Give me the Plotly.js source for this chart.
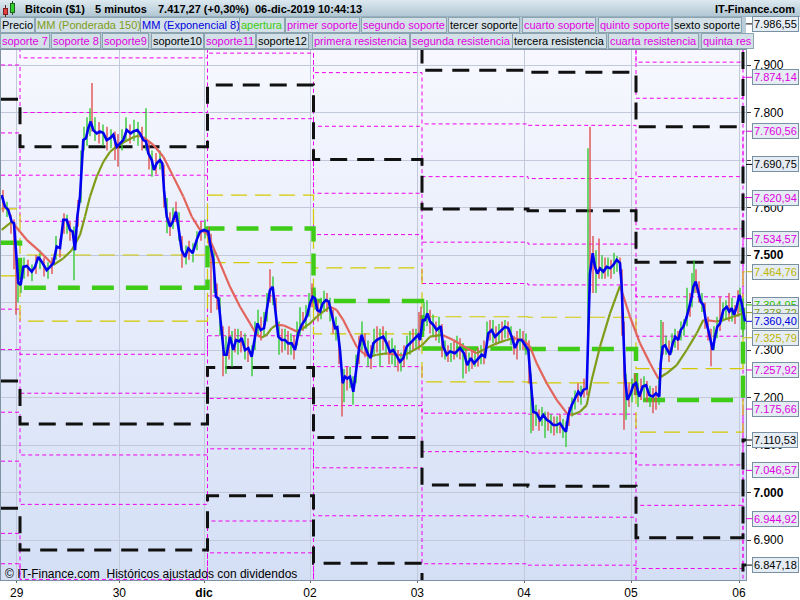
<!DOCTYPE html>
<html lang="es">
<head>
<meta charset="utf-8">
<script src="https://cdn.plot.ly/plotly-3.0.1.min.js"></script>
<style>
html,body{margin:0;padding:0;background:#fff;}
#wrap{position:relative;width:800px;height:600px;overflow:hidden;background:#fff;}
#topbar{position:absolute;left:0;top:0;width:800px;height:17px;background:linear-gradient(#dde9f0,#b1c7d3);border-bottom:1px solid #98b0bd;box-sizing:border-box;}
#legbg{position:absolute;left:0;top:17px;width:746px;height:33px;background:#b9cdd8;}
#plotbg{position:absolute;left:1px;top:50px;width:745px;height:530px;background:linear-gradient(#f7f8ff,#d4dff6);}
#chart{position:absolute;left:0;top:0;width:800px;height:600px;}
.ic{position:absolute;box-sizing:border-box;}
</style>
</head>
<body>
<div id="wrap">
  <div id="topbar"></div>
  <div id="legbg"></div>
  <div id="plotbg"></div>
  <div class="ic" style="left:5px;top:5px;width:1px;height:12px;background:#602020"></div>
  <div class="ic" style="left:3px;top:8px;width:5px;height:7px;background:#e04040;border:1px solid #802020"></div>
  <div class="ic" style="left:12px;top:1px;width:1px;height:14px;background:#205020"></div>
  <div class="ic" style="left:10px;top:3px;width:5px;height:10px;background:#30d030;border:1px solid #206020"></div>
  <div id="chart"></div>
</div>
<script>
// ---------------- DATA ----------------
// x axis = bar position index
const dayTickX = [16.7, 119.3, 204, 310, 417.3, 524, 631, 739];
const dayTickText = ['29', '30', 'dic', '02', '03', '04', '05', '06'];
const priceTicks = [6900, 7000, 7100, 7200, 7300, 7400, 7500, 7600, 7700, 7800, 7900];
const priceTickText = ['6.900', '7.000', '7.100', '7.200', '7.300', '', '7.500', '7.600', '', '7.800', '7.900'];

// start of each daily pivot segment
const segStartX = [1, 20, 207.5, 313.5, 422, 528, 636, 743];
const aperturaLv = [7526, 7431, 7556, 7403, 7303, 7302, 7195, 7394.95];
const bandUp = [7597, 7500, 7626, 7473, 7370, 7369, 7261, 7464.76];
const bandDn = [7456, 7361, 7484, 7334, 7233, 7231, 7127, 7325.79];
const res1 = [7668, 7571, 7699, 7543, 7440, 7437, 7329, 7534.57];
const res2 = [7757, 7668, 7787, 7630, 7527, 7523, 7412, 7620.94];
const res3 = [7828, 7728, 7858, 7701, 7597, 7593, 7485, 7690.75];
const res4 = [7900, 7800, 7925, 7771, 7665, 7661, 7555, 7760.56];
const res5 = [8000, 7915, 8035, 7884, 7776, 7773, 7665, 7874.14];
const res6 = [8110, 8015, 8140, 7990, 7889, 7885, 7770, 7986.55];
const res7 = [8160, 8080, 8190, 8045, 7945, 7940, 7830, 8050];
const res8 = [8230, 8150, 8260, 8110, 8010, 8005, 7906, 8120];
const sup1 = [7386, 7291, 7414, 7265, 7167, 7165, 7058, 7257.92];
const sup2 = [7301, 7209, 7330, 7183, 7086, 7083, 6973, 7175.66];
const sup3 = [7235, 7144, 7263, 7116, 7016, 7013, 6905, 7110.53];
const sup4 = [7169, 7079, 7198, 7052, 6951, 6948, 6840, 7046.57];
const sup5 = [7066, 6975, 7092, 6951, 6850, 6847, 6735, 6944.92];
const sup6 = [6967, 6879, 6993, 6851, 6750, 6747, 6630, 6847.18];
const sup7 = [6914, 6817, 6940, 6790, 6690, 6687, 6570, 6790];
const sup8 = [6850, 6750, 6873, 6720, 6620, 6617, 6500, 6720];

// MM (Exponencial 8)
const emaX = [1.7,5,8.3,11.7,14,16,18.3,20.7,23.3,26.7,31.7,35,38.3,41.7,46.7,50,53.3,56.7,60,63.3,66.7,70,72.7,75,77.3,80,81.7,83.3,86,88.3,90.7,93.3,96.7,100,103.3,106.7,110,113.3,116.7,120,123.3,126.7,130.7,133.3,137.3,140,143.3,146,148.3,151.7,154,156.7,160,162.3,164,166.7,170,172.7,176,178.3,181.7,185,188.3,192.7,196.7,200,204,208.3,210,213.3,216,218.3,220.7,224,226.7,230,233.3,236,239.3,241.7,245,248.3,251.7,255,257.3,260.7,264,266.7,270,272.7,275,278.3,281.7,285,288.3,291.7,295,298.3,301.7,305,307.3,310,312.7,315,317.3,320,322.7,326,328.7,331.7,335,337.3,340,342.7,345,347.3,350,353.3,356.7,359.3,361.7,365,368.3,370.7,373.3,376.7,380,383.3,386.7,390,393.3,396.7,400,403.3,406.7,410,415,418.3,420,422.7,425,427.3,430,433.3,436.7,440.7,443.3,446.7,450,455,460,464,467.3,470.7,474,478.3,481.7,485,488.3,491.7,495,498.3,501.7,505,508.3,511.7,515,518.3,521.7,525,528.3,530.7,533.3,536.7,540,543.3,546.7,550,553.3,556.7,560,563.3,566,568.3,571.7,575,578.3,580.7,583.3,586.7,588.3,590,592.7,595,597.3,600,603.3,606.7,610,613.3,616.7,620,621.7,623.3,625,627.3,630.7,633.3,636,639.3,642.7,646,649.3,652.7,656,659.3,660.7,662.7,665,667.3,670,672.7,675.3,678.3,680.7,683.3,686.7,689.3,691.7,693.3,695.7,698.3,700.7,703.3,705.7,708.3,710.7,712.7,715,717.3,720,723.3,726.7,729.3,731.7,734,736.7,739.3,741.7,745];
const emaV = [7626,7602,7595,7570,7567,7510,7441,7437,7475,7477,7465,7475,7496,7486,7468,7475,7483,7518,7515,7574,7574,7553,7549,7510,7581,7623,7700,7742,7746,7767,7781,7763,7756,7760,7757,7742,7746,7753,7728,7735,7742,7763,7756,7760,7763,7756,7742,7739,7714,7700,7679,7693,7700,7693,7637,7581,7560,7570,7591,7560,7510,7496,7514,7504,7532,7549,7553,7549,7525,7490,7412,7409,7356,7290,7290,7328,7300,7321,7318,7325,7300,7304,7286,7328,7356,7342,7346,7384,7426,7433,7384,7328,7321,7321,7314,7314,7300,7335,7353,7363,7374,7398,7412,7409,7384,7381,7398,7405,7402,7377,7346,7348,7300,7230,7244,7240,7244,7212,7265,7307,7332,7307,7290,7283,7314,7321,7325,7328,7314,7296,7300,7286,7275,7283,7307,7314,7325,7332,7321,7363,7363,7377,7360,7353,7342,7350,7307,7290,7297,7293,7304,7293,7268,7283,7272,7283,7290,7286,7335,7342,7328,7335,7342,7349,7346,7328,7304,7321,7321,7310,7300,7237,7170,7167,7153,7163,7153,7149,7142,7142,7146,7135,7128,7163,7184,7198,7212,7205,7216,7219,7335,7461,7504,7475,7461,7472,7465,7475,7472,7479,7490,7483,7433,7335,7244,7195,7209,7226,7230,7202,7223,7226,7205,7202,7209,7202,7272,7307,7310,7300,7290,7314,7328,7321,7342,7349,7370,7391,7412,7433,7444,7423,7402,7395,7363,7342,7321,7300,7328,7349,7356,7384,7391,7381,7388,7374,7391,7416,7398,7360.4];

// MM (Ponderada 150)
const mmX = [1.7,11.7,26.7,40,53.3,63.3,71.7,80,85,90,96.7,103.3,110,116.7,125,133.3,138.3,143.3,153.3,163.3,173.3,183.3,191.7,200,206.7,210,220,230,240,250,256.7,261.7,266.7,271.7,276.7,283.3,290,296.7,303.3,310,316.7,323.3,330,336.7,343.3,350,356.7,363.3,370,376.7,386.7,396.7,403,410,422,430,441.7,453.3,466.7,476.7,486.7,496.7,506.7,513.3,523.3,530,536.7,546.7,556.7,566.7,571.7,580,586.7,591.7,600,610,620,630,640,650,658.3,666.7,676.7,686.7,696.7,703.3,710,716.7,723.3,733.3,745];
const mmV = [7553,7570,7532,7507,7479,7493,7510,7542,7581,7623,7665,7696,7717,7729,7739,7748,7751,7748,7732,7707,7665,7623,7581,7553,7546,7532,7483,7433,7391,7356,7332,7326,7332,7346,7353,7352,7346,7339,7346,7356,7370,7381,7391,7384,7363,7335,7307,7293,7286,7290,7293,7290,7289,7295,7310,7328,7332,7321,7304,7293,7304,7314,7321,7325,7321,7307,7272,7230,7195,7167,7163,7170,7184,7237,7307,7377,7435,7370,7314,7272,7240,7251,7268,7300,7335,7363,7362,7360,7363,7370,7378.72];

// Precio (high / low of the candles, 1 = up candle)
const spikeX = [3,7,11,14,16,18,21,24,28,32, 36,40,44,48,52,56,60,64,67,70, 74,78,81,84,87,90,92,95,99,103, 107,111,115,118,122,126,130,134,138,142, 146,149,152,156,160,164,167,170,173,176, 179,182,186,189,193,197,201,205,209,211, 214,217,220,223,226,229,232,235,238,241, 245,248,252,255,258,261,264,267,270,273, 276,279,282,285,288,291,294,297,300,303, 306,309,312,315,318,321,324,327,330,333, 336,339,342,344,347,350,353,356,359,362, 365,368,371,374,377,380,383,386,389,392, 395,398,401,404,407,410,413,416,419,421, 424,427,430,433,436,439,442,445,448,451, 454,457,460,463,466,469,472,475,478,481, 484,487,490,493,496,499,502,505,508,511, 514,517,520,523,526,529,531,533,536,539, 542,545,548,551,554,557,560,563,566,569, 572,575,578,581,584,587,588,590,593,596, 599,602,605,608,611,614,617,620,622,624, 626,629,632,635,638,641,644,647,650,653, 656,659,661,663,666,669,672,675,678,681, 684,687,690,692,694,696,699,702,705,708, 711,714,717,720,723,726,729,732,735,738, 740,743];
const spikeHi = [7637,7612,7585,7575,7520,7470,7460,7495,7490,7480, 7500,7510,7495,7485,7495,7540,7535,7588,7585,7570, 7560,7616,7720,7770,7790,7809,7862,7790,7780,7775, 7770,7765,7760,7755,7765,7790,7775,7785,7780,7770, 7809,7740,7720,7715,7720,7690,7620,7590,7600,7612, 7590,7540,7520,7530,7525,7550,7570,7575,7560,7545, 7510,7440,7410,7350,7330,7350,7340,7345,7345,7340, 7335,7325,7310,7360,7385,7370,7380,7420,7470,7455, 7410,7360,7345,7345,7340,7335,7330,7360,7390,7380, 7395,7420,7440,7425,7405,7410,7425,7420,7410,7385, 7370,7330,7260,7260,7265,7265,7245,7290,7330,7360, 7335,7320,7310,7345,7350,7345,7350,7340,7320,7325, 7310,7300,7295,7310,7330,7340,7345,7345,7380,7391, 7400,7405,7385,7375,7360,7370,7355,7320,7310,7315, 7320,7330,7325,7315,7300,7295,7300,7300,7305,7310, 7320,7360,7363,7363,7350,7355,7360,7363,7360,7350, 7330,7340,7345,7340,7335,7320,7250,7200,7185,7175, 7180,7170,7170,7165,7160,7160,7165,7155,7150,7180, 7200,7215,7230,7225,7240,7250,7725,7770,7540,7510, 7535,7500,7495,7495,7490,7505,7498,7495,7470,7360, 7250,7230,7240,7250,7230,7240,7245,7235,7225,7220, 7225,7240,7363,7359,7330,7320,7335,7345,7340,7360, 7365,7431,7420,7462,7489,7470,7445,7420,7400,7370, 7345,7350,7370,7412,7400,7405,7420,7410,7395,7426, 7431,7410];
const spikeLo = [7590,7580,7545,7470,7374,7400,7420,7450,7455,7445, 7460,7470,7455,7450,7460,7490,7495,7545,7545,7530, 7447,7560,7610,7720,7730,7750,7760,7740,7735,7730, 7720,7725,7700,7686,7720,7740,7735,7740,7730,7720, 7720,7680,7665,7670,7680,7600,7546,7540,7555,7570, 7530,7473,7480,7490,7485,7510,7530,7535,7520,7378, 7420,7385,7330,7245,7250,7280,7265,7295,7290,7295, 7280,7275,7245,7300,7330,7320,7330,7360,7400,7395, 7350,7290,7295,7300,7290,7290,7280,7310,7330,7340, 7345,7370,7390,7385,7360,7365,7380,7380,7360,7335, 7320,7270,7160,7190,7215,7220,7185,7230,7270,7300, 7285,7265,7260,7290,7295,7265,7300,7290,7270,7270, 7265,7255,7255,7265,7280,7290,7300,7305,7300,7330, 7340,7350,7335,7330,7320,7315,7285,7280,7275,7275, 7280,7285,7280,7240,7250,7255,7260,7265,7265,7270, 7270,7310,7320,7315,7310,7315,7320,7325,7325,7310, 7290,7280,7300,7300,7290,7230,7125,7130,7140,7130, 7140,7115,7130,7125,7120,7125,7125,7115,7096,7140, 7160,7175,7190,7185,7200,7205,7300,7420,7420,7420, 7450,7450,7450,7455,7450,7460,7465,7460,7330,7132, 7153,7180,7190,7205,7180,7195,7200,7190,7180,7167, 7174,7185,7260,7290,7290,7275,7295,7305,7300,7320, 7330,7350,7370,7390,7420,7420,7400,7380,7345,7320, 7266,7300,7325,7340,7360,7365,7360,7360,7355,7370, 7380,7327];
const spikeUp = [0,1,0,0,0,1,1,1,0,1, 0,1,0,1,0,1,0,0,1,0, 1,0,1,1,1,1,0,1,0,1, 0,1,0,0,1,1,0,1,1,0, 1,0,1,0,1,0,1,0,1,0, 1,0,1,0,1,1,0,1,0,0, 1,0,1,0,1,0,1,0,1,0, 1,0,1,1,1,0,1,1,0,1, 0,1,0,1,0,1,0,1,1,0, 1,1,0,1,0,1,1,0,1,0, 1,0,0,1,0,1,1,1,0,1, 0,1,0,1,0,1,0,1,0,1, 1,0,1,0,1,1,0,1,0,0, 1,1,0,1,0,1,0,1,0,1, 0,1,0,1,0,1,0,1,0,1, 0,1,0,1,0,1,0,1,0,1, 0,0,1,0,1,0,1,0,1,0, 1,1,0,1,0,1,0,1,1,0, 1,1,0,1,0,0,1,0,0,1, 0,1,0,1,0,1,1,0,0,0, 1,0,1,0,1,0,1,0,1,0, 0,1,1,0,1,0,1,1,0,1, 1,1,0,1,1,0,0,1,0,0, 0,1,1,0,1,1,0,1,0,0, 1,1];

// header / legend texts
const titleParts = ['Bitcoin ($1)', '5 minutos', '7.417,27 (+0,30%)', '06-dic-2019 10:44:13'];
const legendRow1 = ['Precio', 'MM (Ponderada 150)', 'MM (Exponencial 8)', 'apertura', 'primer soporte', 'segundo soporte', 'tercer soporte', 'cuarto soporte', 'quinto soporte', 'sexto soporte'];
const legendRow2 = ['soporte 7', 'soporte 8', 'soporte9', 'soporte10', 'soporte11', 'soporte12', 'primera resistencia', 'segunda resistencia', 'tercera resistencia', 'cuarta resistencia', 'quinta res'];

// ---------------- STYLE / LAYOUT ----------------
const FONT = '"Liberation Sans", Arial, sans-serif';
const ML = 1, MT = 50, PW = 745, PH = 530, MR = 54, MB = 20;
const X_RANGE = [1, 746];
const Y_RANGE = [6815.8, 7931.6];
const C = {mag: '#f000f0', magT: '#e000e0', blk: '#111111', yel: '#d4c900', yelT: '#bdb400', grn: '#3fcc17', grnT: '#2fbf00',
           olive: '#7f9d18', salmon: '#e2645c', blue: '#0000f0', up: '#35c935', dn: '#e05050'};
const ST = {
  mag: {color: C.mag, width: 1, dash: '4px,3px'},
  blk: {color: C.blk, width: 3, dash: '17px,10px'},
  yel: {color: C.yel, width: 1.2, dash: '16px,8px'},
  grn: {color: C.grn, width: 4.5, dash: '22px,12px'}
};

const px2x = p => (p - ML) / PW;
const py2y = p => 1 - (p - MT) / PH;
const v2y = v => (v - Y_RANGE[0]) / (Y_RANGE[1] - Y_RANGE[0]);
function fmtEs(v) {
  const s = v.toFixed(2).split('.');
  return s[0].replace(/\B(?=(\d{3})+(?!\d))/g, '.') + ',' + s[1];
}

const segEdges = segStartX.concat([X_RANGE[1]]);
const levels = [
  {v: res8, st: 'mag', lab: null}, {v: res7, st: 'mag', lab: null},
  {v: sup8, st: 'mag', lab: null}, {v: sup7, st: 'mag', lab: null},
  {v: res5, st: 'mag', lab: C.magT}, {v: res4, st: 'mag', lab: C.magT},
  {v: res2, st: 'mag', lab: C.magT}, {v: res1, st: 'mag', lab: C.magT},
  {v: sup1, st: 'mag', lab: C.magT}, {v: sup2, st: 'mag', lab: C.magT},
  {v: sup4, st: 'mag', lab: C.magT}, {v: sup5, st: 'mag', lab: C.magT},
  {v: bandUp, st: 'yel', lab: C.yelT}, {v: bandDn, st: 'yel', lab: C.yelT},
  {v: res6, st: 'blk', lab: '#000'}, {v: res3, st: 'blk', lab: '#000'},
  {v: sup3, st: 'blk', lab: '#000'}, {v: sup6, st: 'blk', lab: '#000'},
  {v: aperturaLv, st: 'grn', lab: null}
];

const traces = [];
levels.forEach(l => {
  traces.push({x: segEdges, y: l.v.concat([l.v[l.v.length - 1]]), mode: 'lines', type: 'scatter',
    line: Object.assign({shape: 'hv'}, ST[l.st]), hoverinfo: 'skip', showlegend: false});
});

// candles (wicks)
const gX = [], gY = [], rX = [], rY = [];
spikeX.forEach((x, i) => {
  const tx = spikeUp[i] ? gX : rX, ty = spikeUp[i] ? gY : rY;
  tx.push(x, x, null); ty.push(spikeHi[i], spikeLo[i], null);
});
traces.push({x: rX, y: rY, mode: 'lines', line: {color: C.dn, width: 1.4}, hoverinfo: 'skip', showlegend: false});
traces.push({x: gX, y: gY, mode: 'lines', line: {color: C.up, width: 1.4}, hoverinfo: 'skip', showlegend: false});

// MM 150 coloured by slope
const uX = [], uY = [], dX = [], dY = [];
for (let i = 0; i < mmX.length - 1; i++) {
  const rising = mmV[i + 1] >= mmV[i];
  (rising ? uX : dX).push(mmX[i], mmX[i + 1], null);
  (rising ? uY : dY).push(mmV[i], mmV[i + 1], null);
}
traces.push({x: dX, y: dY, mode: 'lines', line: {color: C.salmon, width: 2.2}, hoverinfo: 'skip', showlegend: false});
traces.push({x: uX, y: uY, mode: 'lines', line: {color: C.olive, width: 2.2}, hoverinfo: 'skip', showlegend: false});

// EMA 8
traces.push({x: emaX, y: emaV, mode: 'lines', line: {color: C.blue, width: 2.6}, hoverinfo: 'skip', showlegend: false});

// ---------------- ANNOTATIONS ----------------
const ann = [];
const titleLeft = [23, 93, 156, 253];
titleParts.forEach((t, i) => ann.push({xref: 'paper', yref: 'paper', x: px2x(titleLeft[i]), y: py2y(8.5), xanchor: 'left', yanchor: 'middle',
  text: '<b>' + t + '</b>', showarrow: false, font: {family: FONT, size: 11, color: '#000'}}));
ann.push({xref: 'paper', yref: 'paper', x: px2x(797), y: py2y(8.5), xanchor: 'right', yanchor: 'middle',
  text: '<b>IT-Finance.com</b>', showarrow: false, font: {family: FONT, size: 11, color: '#000'}});

const row1Left = [0, 35, 140, 239, 285, 361, 448, 522, 598, 672];
const row1Col = ['#000', C.olive, '#0000e0', '#3ccc10', C.magT, C.magT, '#000', C.magT, C.magT, '#000'];
const row2Left = [0, 51, 102, 151, 204, 256, 312, 410, 512, 608, 701];
const row2Col = [C.magT, C.magT, C.magT, '#000', C.magT, '#000', C.magT, C.magT, '#000', C.magT, C.magT];
function legBox(text, left, cy, color) {
  return {xref: 'paper', yref: 'paper', x: px2x(left), y: py2y(cy), xanchor: 'left', yanchor: 'middle', text: text,
    showarrow: false, font: {family: FONT, size: 11, color: color}, bgcolor: '#d3e0e7', bordercolor: '#8ca3b0', borderwidth: 1, borderpad: 1};
}
legendRow1.forEach((t, i) => ann.push(legBox(t, row1Left[i], 25, row1Col[i])));
legendRow2.forEach((t, i) => ann.push(legBox(t, row2Left[i], 41.5, row2Col[i])));

// right-hand value boxes (last values)
function valBox(v, color) {
  return {xref: 'paper', yref: 'paper', x: 1, y: v2y(v), ax: 6, ay: 0, showarrow: true, arrowhead: 0, arrowwidth: 1, arrowcolor: color,
    xanchor: 'left', yanchor: 'middle', text: fmtEs(v), font: {family: FONT, size: 11, color: color},
    bgcolor: '#e5ecf4', bordercolor: '#7890a2', borderwidth: 1, borderpad: 1};
}
levels.forEach(l => { if (l.lab) ann.push(valBox(l.v[l.v.length - 1], l.lab)); });
ann.push(valBox(aperturaLv[aperturaLv.length - 1], C.grnT));
ann.push(valBox(mmV[mmV.length - 1], C.olive));
ann.push(valBox(emaV[emaV.length - 1], '#0000e0'));

ann.push({xref: 'paper', yref: 'paper', x: px2x(3), y: py2y(574), xanchor: 'left', yanchor: 'middle', showarrow: false,
  text: '© IT-Finance.com  Históricos ajustados con dividendos', font: {family: FONT, size: 12, color: '#000'}});

const layout = {
  width: 800, height: 600,
  margin: {l: ML, r: MR, t: MT, b: MB, pad: 0},
  paper_bgcolor: 'rgba(0,0,0,0)', plot_bgcolor: 'rgba(0,0,0,0)',
  font: {family: FONT, size: 12, color: '#000'},
  showlegend: false,
  xaxis: {range: X_RANGE, tickvals: dayTickX, ticktext: dayTickText.map(t => t === 'dic' ? '<b>dic</b>' : t),
    showgrid: true, gridcolor: '#c2c9da', gridwidth: 1, ticks: 'outside', ticklen: 2, tickcolor: '#666',
    showline: true, linecolor: '#7f92a4', mirror: true, zeroline: false, tickfont: {size: 12, color: '#000'}, fixedrange: true},
  yaxis: {range: Y_RANGE, side: 'right', tickvals: priceTicks,
    ticktext: priceTickText.map(t => (t === '7.000' || t === '7.500') ? '<b>' + t + '</b>' : t),
    showgrid: true, gridcolor: '#c2c9da', gridwidth: 1, ticks: 'outside', ticklen: 4, tickcolor: '#444',
    showline: true, linecolor: '#7f92a4', mirror: true, zeroline: false, tickfont: {size: 12, color: '#000'}, fixedrange: true},
  annotations: ann
};

Plotly.newPlot('chart', traces, layout, {displayModeBar: false, staticPlot: true});
</script>
</body>
</html>
